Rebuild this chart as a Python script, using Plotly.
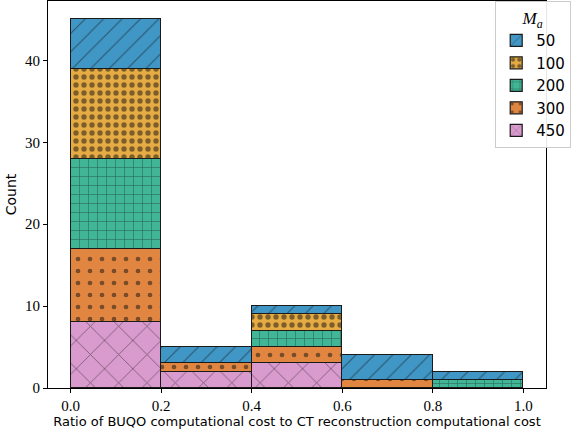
import plotly.graph_objects as go

# Histogram bins of the cost ratio (edges 0.0 .. 1.0, width 0.2)
bin_edges = [0.0, 0.2, 0.4, 0.6, 0.8, 1.0]

# Counts per bin for each M_a value (stacked, bottom to top: 450, 300, 200, 100, 50)
counts_450 = [8, 2, 3, 0, 0]
counts_300 = [9, 1, 2, 1, 0]
counts_200 = [11, 0, 2, 0, 1]
counts_100 = [11, 0, 2, 0, 0]
counts_50 = [6, 2, 1, 3, 1]

series = [
    ("450", counts_450, "#d99acd", "x", 20, 0.08),
    ("300", counts_300, "#e08640", ".", 12, 0.12),
    ("200", counts_200, "#41b696", "+", 9, 0.12),
    ("100", counts_100, "#e6ab43", ".", 8, 0.35),
    ("50", counts_50, "#4096c5", "/", 13, 0.08),
]

centers = [(a + b) / 2 for a, b in zip(bin_edges[:-1], bin_edges[1:])]
widths = [b - a for a, b in zip(bin_edges[:-1], bin_edges[1:])]

SERIF = "Liberation Serif"
SANS = "DejaVu Sans"

fig = go.Figure()
for name, vals, color, shape, size, solidity in series:
    fig.add_trace(go.Bar(
        x=centers, y=vals, width=widths, name=name,
        marker=dict(
            color=color,
            line=dict(color="#1a1a1a", width=1.2),
            pattern=dict(shape=shape, fgcolor="#111111", bgcolor=color,
                         size=size, solidity=solidity, fillmode="overlay"),
        ),
    ))

axis_common = dict(
    showline=True, linecolor="black", linewidth=1, mirror=True,
    ticks="outside", ticklen=4, tickcolor="black", showgrid=False,
    zeroline=False,
    tickfont=dict(family=SERIF, size=15, color="black"),
)

fig.update_layout(
    width=572, height=431,
    margin=dict(l=48, r=24, t=1, b=43),
    barmode="stack", bargap=0,
    plot_bgcolor="white", paper_bgcolor="white",
    xaxis=dict(range=[-0.05, 1.05], tickvals=[0.0, 0.2, 0.4, 0.6, 0.8, 1.0],
               ticktext=["0.0", "0.2", "0.4", "0.6", "0.8", "1.0"],
               title=dict(text="Ratio of BUQO computational cost to CT reconstruction computational cost",
                          standoff=0, font=dict(family=SANS, size=13, color="black")),
               **axis_common),
    yaxis=dict(range=[0, 47.25], tickvals=[0, 10, 20, 30, 40],
               title=dict(text="Count", standoff=5,
                          font=dict(family=SANS, size=14, color="black")),
               **axis_common),
    legend=dict(
        title=dict(text="<i>M</i><sub><i>a</i></sub>",
                   font=dict(family=SERIF, size=17, color="black"),
                   side="top center"),
        x=0.898, y=1.0, xanchor="left", yanchor="top",
        bgcolor="rgba(255,255,255,0.9)", bordercolor="#cccccc", borderwidth=1,
        font=dict(family=SANS, size=15, color="black"),
        itemwidth=30,
    ),
)

fig.write_html("out.html")
